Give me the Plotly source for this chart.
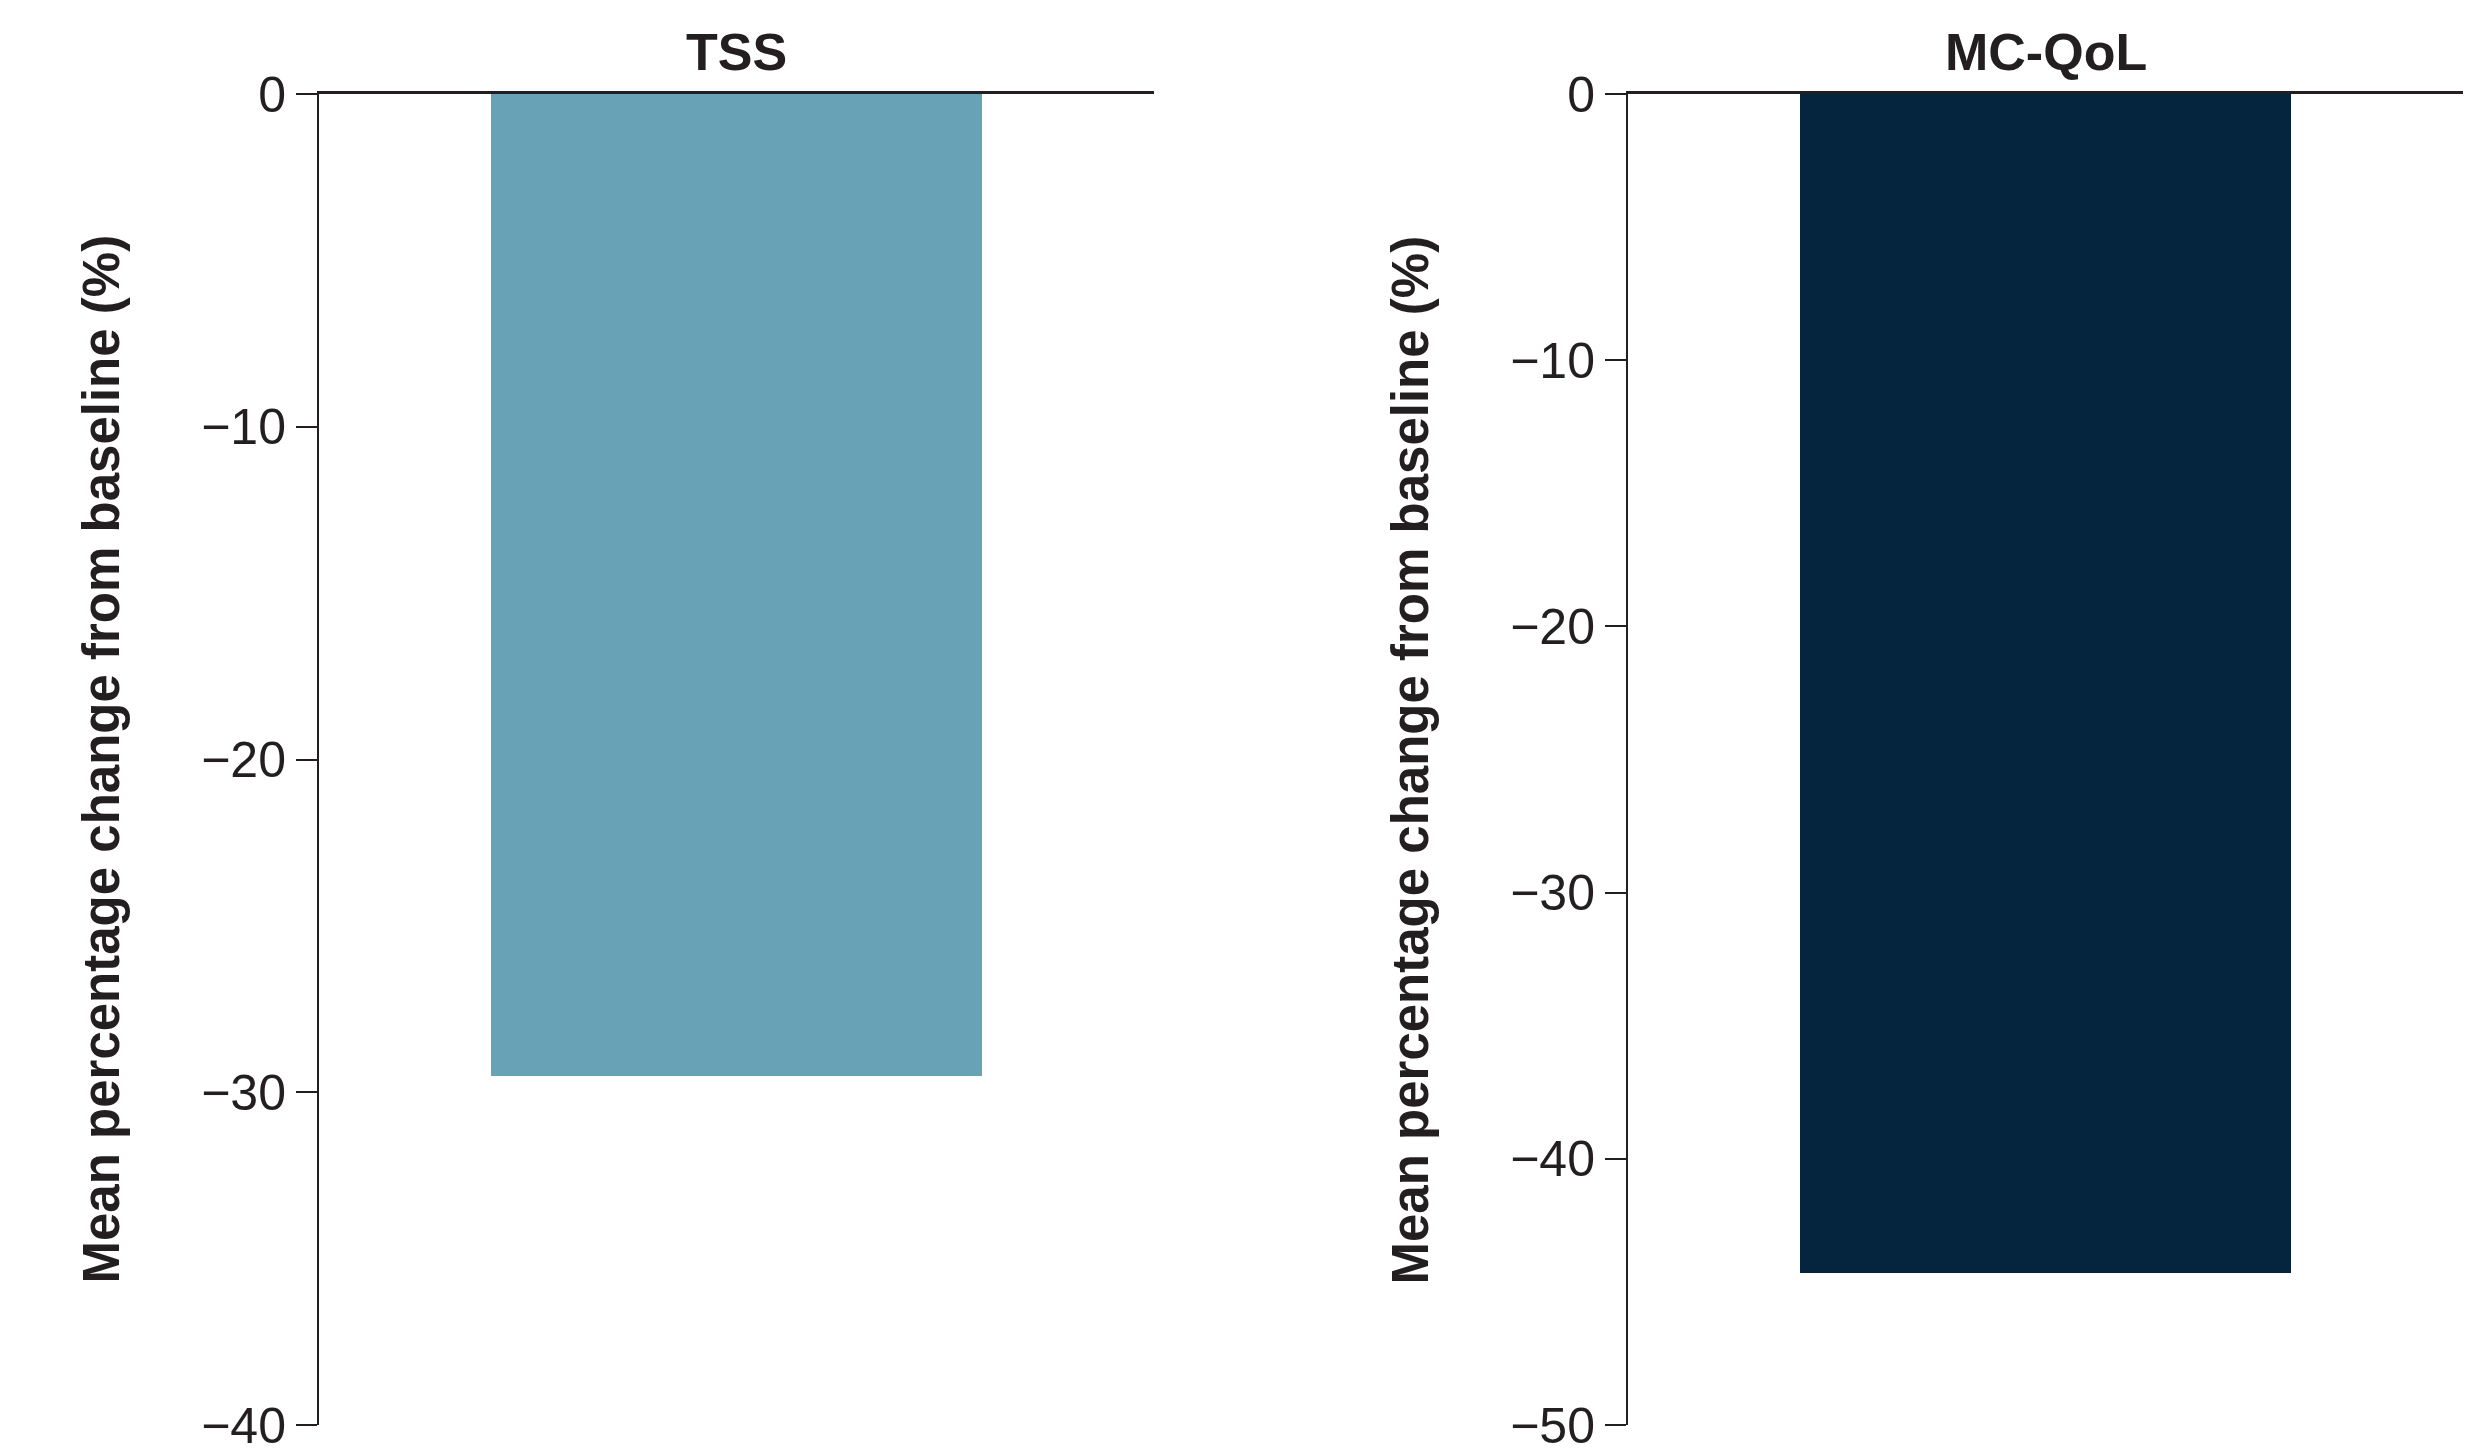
import plotly.graph_objects as go

categories = ["TSS", "MC-QoL"]
values = [-29.5, -44.3]
colors = ["#68A2B7", "#04253D"]
y_ranges = [[-40, 0], [-50, 0]]
y_title = "Mean percentage change from baseline (%)"

W, H = 2489, 1455
ink = "#231F20"
font_family = "Arial, Liberation Sans, Helvetica, sans-serif"
off = 6  # page body margin compensation

x_domains = [[(317 - off) / W, (1152 - off) / W], [(1626 - off) / W, (2461 - off) / W]]
y_domain = [1 - (1423 - off) / H, 1 - (92 - off) / H]

fig = go.Figure()
for i, (cat, val, col) in enumerate(zip(categories, values, colors)):
    n = "" if i == 0 else str(i + 1)
    fig.add_trace(go.Bar(x=[cat], y=[val], marker=dict(color=col, line=dict(width=0)),
                         width=0.588, xaxis="x" + n, yaxis="y" + n, showlegend=False))
    fig.layout["xaxis" + n] = dict(
        domain=x_domains[i], anchor="y" + n, side="top", type="category",
        range=[-0.5, 0.5], showline=True, linecolor=ink, linewidth=3,
        showticklabels=False, ticks="", showgrid=False, zeroline=False,
        fixedrange=True, automargin=False)
    fig.layout["yaxis" + n] = dict(
        domain=y_domain, anchor="x" + n, range=y_ranges[i], dtick=10,
        showline=True, linecolor=ink, linewidth=2, ticks="outside", ticklen=21,
        tickwidth=2, tickcolor=ink, showgrid=False, zeroline=False, automargin=False,
        tickfont=dict(family=font_family, size=50, color=ink), fixedrange=True)
    cx = (x_domains[i][0] + x_domains[i][1]) / 2
    fig.add_annotation(text="<b>" + cat + "</b>", xref="paper", yref="paper",
                       x=cx, y=1 - (50 - off) / H, xanchor="center", yanchor="middle",
                       showarrow=False, font=dict(family=font_family, size=52, color=ink))
    fig.add_annotation(text="<b>" + y_title + "</b>", xref="paper", yref="paper",
                       x=(x_domains[i][0] * W - 218) / W, y=(y_domain[0] + y_domain[1]) / 2,
                       xanchor="center", yanchor="middle", textangle=-90,
                       showarrow=False, font=dict(family=font_family, size=51, color=ink))

fig.update_layout(template="none", width=W, height=H, margin=dict(l=0, r=0, t=0, b=0, pad=0),
                  paper_bgcolor="white", plot_bgcolor="white", bargap=0)
fig.write_html("out.html")
